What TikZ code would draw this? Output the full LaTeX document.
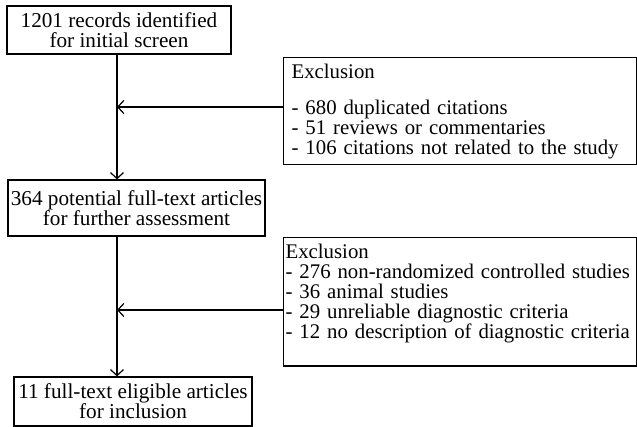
\documentclass[tikz,border=0pt]{standalone}
\usepackage{fontspec}
\setmainfont{Liberation Serif}
\usetikzlibrary{positioning,arrows.meta}

\begin{document}
\begin{tikzpicture}[x=0.5pt, y=-0.5pt, line width=0.6pt,
        >={Straight Barb[length=3pt,width=6.5pt]}]
    \tikzset{
        stepbox/.style={draw, align=center, inner sep=0pt, font=\fontsize{10.6}{10}\selectfont},
        exclbox/.style={draw, align=left, anchor=north west, inner ysep=3pt, font=\fontsize{10.4}{10}\selectfont},
    }
    \useasboundingbox (0,0) rectangle (637,427);

    % Node definitions
    \node (A) [stepbox, minimum width=112pt, minimum height=24pt] at (119,30)
        {1201 records identified\\for initial screen};
    \node (B) [stepbox, minimum width=128.5pt, minimum height=28pt] at (136.5,208)
        {364 potential full-text articles\\for further assessment};
    \node (C) [stepbox, minimum width=119pt, minimum height=24.5pt] at (133,401.5)
        {11 full-text eligible articles\\for inclusion};

    \node (E1) [exclbox, inner xsep=4pt, text width=168.5pt] at (283,57)
        {Exclusion\\[8pt]
         - 680 duplicated citations\\
         - 51 reviews or commentaries\\
         - 106 citations not related to the study};
    \node (E2) [exclbox, inner xsep=1pt, text width=174.5pt] at (283,237)
        {Exclusion\\
         - 276 non-randomized controlled studies\\
         - 36 animal studies\\
         - 29 unreliable diagnostic criteria\\
         - 12 no description of diagnostic criteria\rule[-11pt]{0pt}{1pt}};

    % Connectors
    \coordinate (j1) at (117,107);
    \coordinate (j2) at (117,310);
    \draw[->] (A.south -| j1) -- (B.north -| j1);
    \draw[->] (E1.west |- j1) -- (j1);
    \draw[->] (B.south -| j2) -- (C.north -| j2);
    \draw[->] (E2.west |- j2) -- (j2);
\end{tikzpicture}
\end{document}
